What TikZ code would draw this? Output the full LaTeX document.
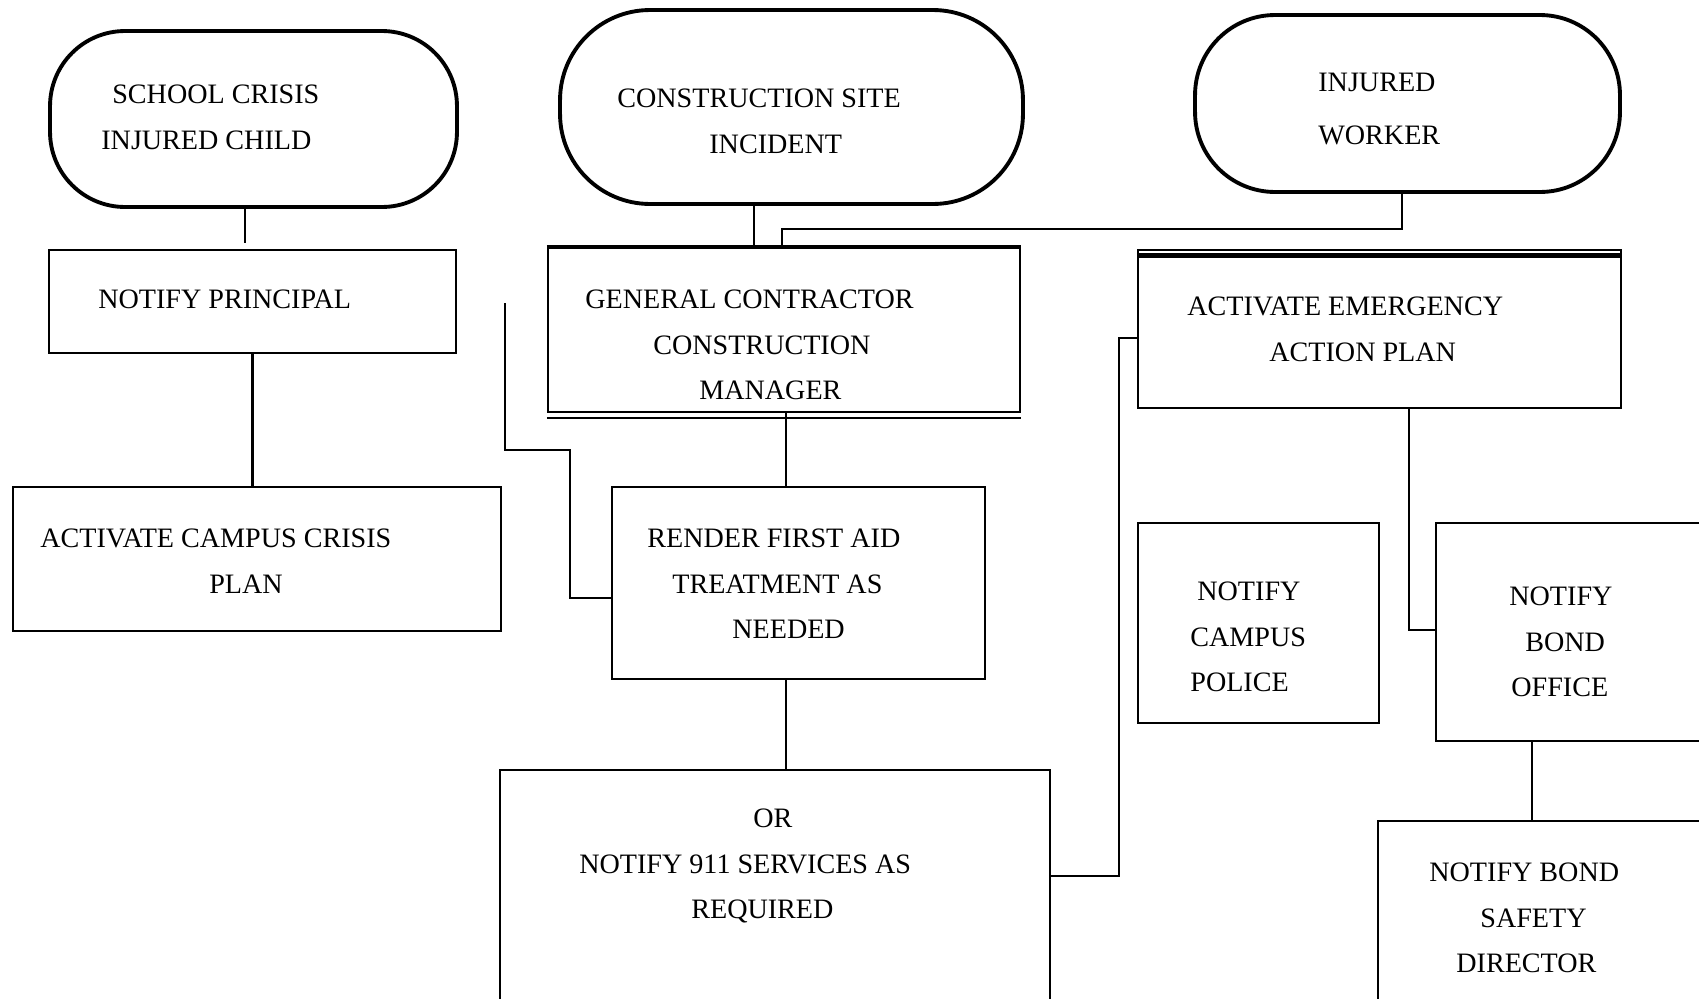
\documentclass[tikz,border=0pt]{standalone}
\usepackage{fontspec}
\setmainfont{Liberation Serif}
\usetikzlibrary{positioning}
\newlength{\pxl}
\setlength{\pxl}{0.02cm}

\begin{document}
\begin{tikzpicture}[
  x=0.02cm, y=-0.02cm,
  font=\fontsize{16}{26}\selectfont,
  event/.style={draw, line width=2.2pt, rounded corners=#1, inner sep=0pt},
  box/.style={draw, line width=1.3pt, inner sep=0pt},
  txt/.style={align=left, anchor=west, inner sep=0pt},
  link/.style={line width=1.5pt}
]
\clip (0,0) rectangle (1699,998);
\fill[white] (0,0) rectangle (1699,998);

% incidents
\node[event=1.5cm, minimum width=8.14cm, minimum height=3.52cm] (school) at (253.5,119) {};
\node[event=1.8cm, minimum width=9.26cm, minimum height=3.88cm] (site) at (791.5,107) {};
\node[event=1.6cm, minimum width=8.5cm, minimum height=3.54cm] (worker) at (1407.5,103.5) {};
\node[txt] (schooltxt) at (101,117.5) {\hspace*{11\pxl}SCHOOL CRISIS\\INJURED CHILD};
\node[txt] (sitetxt) at (617,121) {CONSTRUCTION SITE\\\hspace*{92\pxl}INCIDENT};
\node[txt] (workertxt) at (1318,109) {INJURED\\[4.7pt]WORKER};

% left column
\node[box, minimum width=8.14cm, minimum height=2.06cm] (principal) at (252.5,301.5) {};
\node[box, minimum width=9.76cm, minimum height=2.88cm] (crisisplan) at (257,559) {};
\node[txt] (principaltxt) at (98,299) {NOTIFY PRINCIPAL};
\node[txt] (crisisplantxt) at (40,561) {ACTIVATE CAMPUS CRISIS\\\hspace*{169\pxl}PLAN};

% middle column
\node[box, minimum width=9.44cm, minimum height=3.28cm] (gc) at (784,330) {};
\node[box, minimum width=7.46cm, minimum height=3.84cm] (firstaid) at (798.5,583) {};
\node[box, minimum width=11cm, minimum height=5cm] (ems) at (775,895) {};
\node[txt] (gctxt) at (585,345) {GENERAL CONTRACTOR\\\hspace*{68\pxl}CONSTRUCTION\\\hspace*{114\pxl}MANAGER};
\node[txt] (firstaidtxt) at (647,584) {RENDER FIRST AID\\\hspace*{25\pxl}TREATMENT AS\\\hspace*{85\pxl}NEEDED};
\node[txt] (emstxt) at (579,866) {\hspace*{174\pxl}OR\\NOTIFY 911 SERVICES AS\\\hspace*{112\pxl}REQUIRED};
\draw[line width=2.5pt] (gc.north west) -- (gc.north east);
\draw[line width=1.3pt] ([yshift=-0.1cm]gc.south west) -- ([yshift=-0.1cm]gc.south east);

% right column
\node[box, minimum width=9.66cm, minimum height=3.16cm] (aeap) at (1379.5,329) {};
\node[box, minimum width=4.82cm, minimum height=4cm] (police) at (1258.5,623) {};
\node[box, minimum width=5.68cm, minimum height=4.36cm] (bondoffice) at (1578,632) {};
\node[box, minimum width=6.84cm, minimum height=3.98cm] (bondsafety) at (1549,920.5) {};
\node[txt] (aeaptxt) at (1187,329.5) {ACTIVATE EMERGENCY\\\hspace*{82\pxl}ACTION PLAN};
\node[txt] (policetxt) at (1190,637) {\hspace*{7\pxl}NOTIFY\\CAMPUS\\POLICE};
\node[txt] (bondofficetxt) at (1509,642) {NOTIFY\\\hspace*{16\pxl}BOND\\\hspace*{2\pxl}OFFICE};
\node[txt] (bondsafetytxt) at (1429,918) {NOTIFY BOND\\\hspace*{51\pxl}SAFETY\\\hspace*{27\pxl}DIRECTOR};
\draw[line width=3pt] ([yshift=-0.13cm]aeap.north west) -- ([yshift=-0.13cm]aeap.north east);

% connectors
\coordinate (aidtop) at (505,303);
\draw[line width=0.8pt] (245,0 |- school.south) -- ++(0,34);
\draw[link] (principal.south) -- (principal.south |- crisisplan.north);
\draw[link] (754,0 |- site.south) -- (754,0 |- gc.north);
\draw[link] (1402,0 |- worker.south) |- (782,229) -- (782,0 |- gc.north);
\draw[link] (aidtop) |- (570,450) |- (firstaid.west |- 0,598);
\draw[link] (786,0 |- gc.south) -- (786,0 |- firstaid.north);
\draw[link] (786,0 |- firstaid.south) -- (786,0 |- ems.north);
\draw[link] (ems.east |- 0,876) -| (1119,338) -- (aeap.west |- 0,338);
\draw[link] (1409,0 |- aeap.south) |- (bondoffice.west |- 0,630);
\draw[link] (1532,0 |- bondoffice.south) -- (1532,0 |- bondsafety.north);
\end{tikzpicture}
\end{document}
